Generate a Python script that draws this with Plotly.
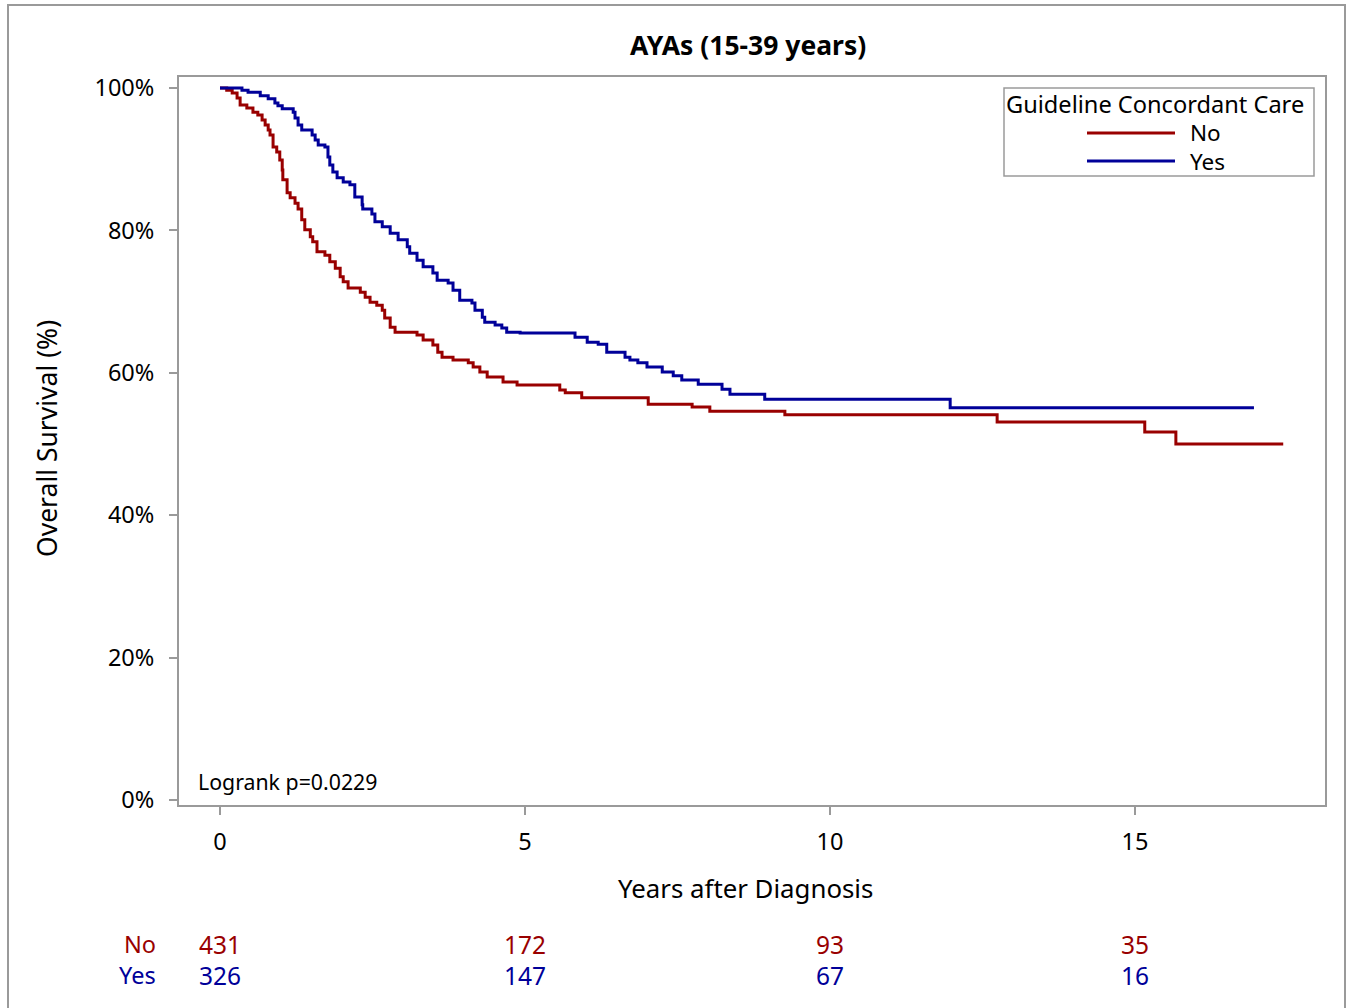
import plotly.graph_objects as go

# ---------------- data ----------------
title_text = "AYAs (15-39 years)"
group_names = ["No", "Yes"]
legend_title = "Guideline Concordant Care"

# Kaplan-Meier step points (years, survival %)
no_time = [0, 0.11, 0.20, 0.28, 0.33, 0.44, 0.54, 0.62, 0.69, 0.74, 0.79, 0.82, 0.87, 0.93,
           0.98, 1.02, 1.03, 1.10, 1.15, 1.23, 1.28, 1.34, 1.39, 1.48, 1.52, 1.59, 1.72,
           1.80, 1.89, 1.97, 2.02, 2.10, 2.30, 2.38, 2.46, 2.57, 2.66, 2.70, 2.79, 2.87,
           3.23, 3.33, 3.49, 3.57, 3.64, 3.82, 4.07, 4.15, 4.26, 4.38, 4.64, 4.87, 5.57,
           5.66, 5.93, 7.02, 7.74, 8.03, 9.26, 12.74, 15.16, 15.67, 17.43]
no_surv = [100, 99.7, 99.3, 98.6, 97.6, 97.2, 96.6, 96.2, 95.5, 94.8, 94.1, 93.4, 91.7, 91.0,
           89.9, 88.5, 87.1, 85.3, 84.6, 83.8, 83.0, 81.5, 80.1, 79.1, 78.4, 77.0, 76.5,
           75.6, 74.7, 73.5, 72.8, 71.9, 71.3, 70.6, 69.9, 69.5, 68.8, 67.7, 66.4, 65.7,
           65.3, 64.6, 63.9, 62.9, 62.2, 61.8, 61.4, 60.8, 60.1, 59.4, 58.7, 58.3, 57.6,
           57.2, 56.5, 55.6, 55.2, 54.6, 54.1, 53.1, 51.7, 50.0, 50.0]

yes_time = [0, 0.36, 0.46, 0.66, 0.79, 0.90, 0.95, 1.02, 1.20, 1.23, 1.28, 1.34, 1.51, 1.56,
            1.61, 1.72, 1.77, 1.80, 1.85, 1.92, 2.02, 2.13, 2.21, 2.33, 2.34, 2.49, 2.54,
            2.66, 2.79, 2.92, 3.07, 3.11, 3.23, 3.33, 3.49, 3.56, 3.74, 3.82, 3.93, 4.13,
            4.18, 4.30, 4.34, 4.51, 4.62, 4.70, 4.92, 5.82, 6.02, 6.20, 6.34, 6.64, 6.72,
            6.85, 7.00, 7.25, 7.43, 7.57, 7.84, 8.23, 8.36, 8.93, 11.97, 16.95]
yes_surv = [100, 99.7, 99.4, 98.9, 98.5, 97.9, 97.5, 97.1, 96.6, 95.8, 94.8, 94.1, 93.4, 92.7,
            92.0, 91.7, 90.3, 89.2, 88.2, 87.4, 86.8, 86.4, 84.7, 83.6, 83.0, 82.3, 81.2,
            80.5, 79.6, 78.7, 77.7, 76.8, 75.8, 74.9, 74.0, 73.0, 72.6, 71.6, 70.2, 69.8,
            68.8, 67.8, 67.1, 66.7, 66.3, 65.7, 65.6, 65.0, 64.3, 64.0, 62.9, 62.2, 61.8,
            61.4, 60.8, 60.1, 59.6, 59.0, 58.4, 57.7, 57.0, 56.3, 55.1, 55.1]

risk_times = [0, 5, 10, 15]
risk_no = [431, 172, 93, 35]
risk_yes = [326, 147, 67, 16]

x_ticks = [0, 5, 10, 15]
y_ticks = [0, 20, 40, 60, 80, 100]
y_tick_labels = [f"{v}%" for v in y_ticks]
logrank_text = "Logrank p=0.0229"

# ---------------- style ----------------
RED = "#990000"
BLUE = "#000099"
GRAY = "#9a9a9a"
FONT = "Noto Sans"

W, H = 1353, 1008
ML, MR, MT, MB = 179, 28, 77, 203
PW, PH = W - ML - MR, H - MT - MB


def px_x(p):
    return (p - ML) / PW


def px_y(p):
    return (H - MB - p) / PH


fig = go.Figure()
fig.add_trace(go.Scatter(x=no_time, y=no_surv, mode="lines", line_shape="hv",
                         line=dict(color=RED, width=3), name=group_names[0], showlegend=False))
fig.add_trace(go.Scatter(x=yes_time, y=yes_surv, mode="lines", line_shape="hv",
                         line=dict(color=BLUE, width=3), name=group_names[1], showlegend=False))

annotations = []
# title
annotations.append(dict(text="<b>" + title_text + "</b>", x=px_x(748), y=px_y(45), xref="paper", yref="paper",
                        showarrow=False, font=dict(size=26.5, color="black", family=FONT),
                        xanchor="center", yanchor="middle"))
# axis titles
annotations.append(dict(text="Years after Diagnosis", x=px_x(745), y=px_y(888), xref="paper", yref="paper",
                        showarrow=False, font=dict(size=25.8, color="black", family=FONT),
                        xanchor="center", yanchor="middle"))
annotations.append(dict(text="Overall Survival (%)", x=px_x(47), y=px_y(439), xref="paper", yref="paper",
                        showarrow=False, textangle=-90, font=dict(size=26.5, color="black", family=FONT),
                        xanchor="center", yanchor="middle"))
# logrank
annotations.append(dict(text=logrank_text, x=px_x(196), y=px_y(781), xref="paper", yref="paper",
                        showarrow=False, font=dict(size=21.3, color="black", family=FONT),
                        xanchor="left", yanchor="middle"))
# risk table
for lab, counts, col, ypix in [(group_names[0], risk_no, RED, 944), (group_names[1], risk_yes, BLUE, 975)]:
    annotations.append(dict(text=lab, x=px_x(158), y=px_y(ypix), xref="paper", yref="paper",
                            showarrow=False, font=dict(size=23.5, color=col, family=FONT),
                            xanchor="right", yanchor="middle"))
    for t, c in zip(risk_times, counts):
        annotations.append(dict(text=str(c), x=t, y=px_y(ypix), xref="x", yref="paper",
                                showarrow=False, font=dict(size=24.5, color=col, family=FONT),
                                xanchor="center", yanchor="middle"))
# legend (drawn)
annotations.append(dict(text=legend_title, x=px_x(1155), y=px_y(104), xref="paper", yref="paper",
                        showarrow=False, font=dict(size=23.6, color="black", family=FONT),
                        xanchor="center", yanchor="middle"))
shapes = []
for lab, col, ypix in [(group_names[0], RED, 133), (group_names[1], BLUE, 161)]:
    annotations.append(dict(text=lab, x=px_x(1188), y=px_y(ypix), xref="paper", yref="paper",
                            showarrow=False, font=dict(size=22.5, color="black", family=FONT),
                            xanchor="left", yanchor="middle"))
    shapes.append(dict(type="line", xref="paper", yref="paper", x0=px_x(1087), x1=px_x(1175),
                       y0=px_y(ypix), y1=px_y(ypix), line=dict(color=col, width=3)))
shapes.append(dict(type="rect", xref="paper", yref="paper", x0=px_x(1004), x1=px_x(1314),
                   y0=px_y(176), y1=px_y(88), line=dict(color=GRAY, width=1.5), fillcolor="rgba(0,0,0,0)"))
# outer frame
shapes.append(dict(type="rect", xref="paper", yref="paper", x0=px_x(8), x1=px_x(1345),
                   y0=px_y(1015), y1=px_y(5), line=dict(color=GRAY, width=2), fillcolor="rgba(0,0,0,0)"))

x0px, x_per = 220, 61.0
y0px, y_per = 800, 7.12
xr = [(ML - x0px) / x_per, (ML + PW - x0px) / x_per]
yr = [(y0px - (H - MB)) / y_per, (y0px - MT) / y_per]

fig.update_layout(
    width=W, height=H,
    margin=dict(l=ML, r=MR, t=MT, b=MB, pad=0),
    paper_bgcolor="white", plot_bgcolor="white",
    font=dict(family=FONT, size=23, color="black"),
    showlegend=False,
    annotations=annotations, shapes=shapes,
    xaxis=dict(range=xr, tickmode="array", tickvals=x_ticks, showgrid=False, zeroline=False,
               showline=True, linecolor=GRAY, linewidth=2, mirror=True,
               ticks="outside", ticklen=8, tickwidth=2, tickcolor=GRAY,
               ticklabelstandoff=7, tickfont=dict(size=23.5, family=FONT, color="black")),
    yaxis=dict(range=yr, tickmode="array", tickvals=y_ticks, ticktext=y_tick_labels,
               showgrid=False, zeroline=False,
               showline=True, linecolor=GRAY, linewidth=2, mirror=True,
               ticks="outside", ticklen=8, tickwidth=2, tickcolor=GRAY,
               ticklabelstandoff=10, tickfont=dict(size=23.5, family=FONT, color="black")),
)

fig.write_html("out.html")
